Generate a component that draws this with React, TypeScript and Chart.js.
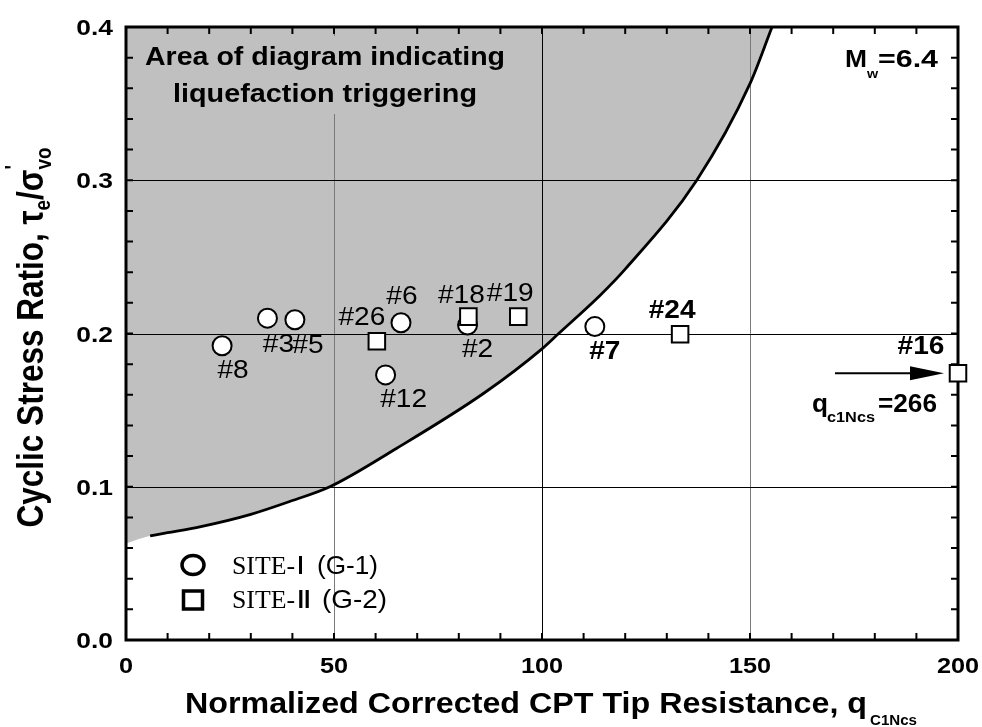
import React, { useEffect, useRef } from 'react';
import { Chart, registerables } from 'chart.js';

Chart.register(...registerables);

// ---------- data ----------
const X_TICK_LABELS = ['0', '50', '100', '150', '200'];
const Y_TICK_LABELS = ['0.0', '0.1', '0.2', '0.3', '0.4'];

const SITE1_NAMES = ['#8', '#3', '#5', '#6', '#12', '#2', '#7'];
const SITE1_QC1NCS = [23.1, 34.0, 40.6, 66.1, 62.4, 82.1, 112.7];
const SITE1_CSR = [0.192, 0.21, 0.209, 0.207, 0.173, 0.2055, 0.2045];

const SITE2_NAMES = ['#26', '#18', '#19', '#24', '#16'];
const SITE2_QC1NCS = [60.3, 82.3, 94.3, 133.2, 200];
const SITE2_CSR = [0.195, 0.211, 0.211, 0.1995, 0.174];

const CRR_QC1NCS = [5.8, 10, 18, 30, 40, 49, 65, 86, 100, 104, 114, 120, 137.2, 150, 155.3];
const CRR_CSR = [0.068, 0.07, 0.074, 0.082, 0.091, 0.1, 0.125, 0.161, 0.19, 0.2, 0.225, 0.242, 0.3, 0.363, 0.4];
const FILL_EDGE_Q = 0;
const FILL_EDGE_CSR = 0.063;

const BOLD_LABELS = ['#7', '#24', '#16'];

// label offsets (pixels, relative to the marker)
const LABEL_OFFSET: Record<string, [number, number]> = {
  '#8': [11, 25], '#3': [11, 27], '#5': [13, 26], '#6': [1, -26], '#12': [18, 25], '#2': [10, 25], '#7': [10, 25],
  '#26': [-15, -23], '#18': [-7, -21], '#19': [-8, -23], '#24': [-8, -23], '#16': [-37, -27],
};

const SANS = '"Liberation Sans", Arial, sans-serif';
const SERIF = '"Liberation Serif", "Times New Roman", serif';
const ROMAN = '"DejaVu Sans", sans-serif';
const GRAY_FILL = '#c0c0c0';

type TxtOpts = { bold?: boolean; sx?: number; width?: number; align?: 'left' | 'center' | 'right'; baseline?: CanvasTextBaseline; family?: string };

function txt(ctx: CanvasRenderingContext2D, s: string, x: number, y: number, size: number, o: TxtOpts = {}) {
  ctx.save();
  ctx.font = `${o.bold ? 'bold ' : ''}${size}px ${o.family || SANS}`;
  ctx.textAlign = 'left';
  ctx.textBaseline = o.baseline || 'alphabetic';
  const nat = ctx.measureText(s).width;
  const w = o.width ?? nat * (o.sx ?? 1);
  const k = w / nat;
  const a = o.align || 'left';
  const x0 = a === 'center' ? x - w / 2 : a === 'right' ? x - w : x;
  ctx.translate(x0, y);
  ctx.scale(k, 1);
  ctx.fillStyle = '#000';
  ctx.fillText(s, 0, 0);
  ctx.restore();
  return w;
}

const decorPlugin = {
  id: 'decor',
  afterDatasetDraw(chart: any, args: any) {
    if (args.index !== 0) return;
    const ctx: CanvasRenderingContext2D = chart.ctx;
    const ca = chart.chartArea;
    const xs = chart.scales.x;
    const ys = chart.scales.y;
    ctx.save();
    // grid lines
    ctx.lineWidth = 1;
    X_TICK_LABELS.forEach((l) => {
      const v = parseFloat(l);
      if (v <= xs.min || v >= xs.max) return;
      const px = Math.round(xs.getPixelForValue(v)) + 0.5;
      ctx.strokeStyle = v % 100 === 0 ? '#000' : '#7a7a7a';
      ctx.beginPath();
      ctx.moveTo(px, ca.top);
      ctx.lineTo(px, ca.bottom);
      ctx.stroke();
    });
    Y_TICK_LABELS.forEach((l) => {
      const v = parseFloat(l);
      if (v <= ys.min || v >= ys.max) return;
      const py = Math.round(ys.getPixelForValue(v)) + 0.5;
      ctx.strokeStyle = '#000';
      ctx.beginPath();
      ctx.moveTo(ca.left, py);
      ctx.lineTo(ca.right, py);
      ctx.stroke();
    });
    // minor ticks, inward on all sides
    ctx.strokeStyle = '#000';
    ctx.lineWidth = 2;
    const tl = 7;
    for (let i = 0; i <= 20; i++) {
      const px = xs.getPixelForValue(xs.min + i * 10);
      ctx.beginPath();
      ctx.moveTo(px, ca.bottom);
      ctx.lineTo(px, ca.bottom - tl);
      ctx.moveTo(px, ca.top);
      ctx.lineTo(px, ca.top + tl);
      ctx.stroke();
    }
    for (let i = 0; i <= 20; i++) {
      const py = ys.getPixelForValue(ys.min + i * 0.02);
      ctx.beginPath();
      ctx.moveTo(ca.left, py);
      ctx.lineTo(ca.left + tl, py);
      ctx.moveTo(ca.right, py);
      ctx.lineTo(ca.right - tl, py);
      ctx.stroke();
    }
    // frame
    ctx.lineWidth = 3;
    ctx.strokeRect(ca.left, ca.top, ca.right - ca.left, ca.bottom - ca.top);
    ctx.restore();
  },
  afterDatasetsDraw(chart: any) {
    const ctx: CanvasRenderingContext2D = chart.ctx;
    const ca = chart.chartArea;
    const xs = chart.scales.x;
    const ys = chart.scales.y;

    // annotation box in the shaded area
    ctx.save();
    ctx.fillStyle = GRAY_FILL;
    ctx.fillRect(ca.left + 9, ca.top + 9, 380, 78);
    ctx.restore();
    txt(ctx, 'Area of diagram indicating', ca.left + 199, ca.top + 38, 25, { bold: true, width: 360, align: 'center' });
    txt(ctx, 'liquefaction triggering', ca.left + 199, ca.top + 75, 25, { bold: true, width: 304, align: 'center' });

    // Mw label
    const mx = ca.right - 113;
    const mw = txt(ctx, 'M', mx, ca.top + 40, 24, { bold: true, sx: 1.1 });
    txt(ctx, 'w', mx + mw, ca.top + 51, 13, { bold: true, sx: 1.1 });
    txt(ctx, '=6.4', mx + 33, ca.top + 40, 24, { bold: true, width: 60 });

    // point labels
    const drawLabels = (names: string[], qs: number[], cs: number[]) => {
      names.forEach((n, i) => {
        const px = xs.getPixelForValue(qs[i]);
        const py = ys.getPixelForValue(cs[i]);
        const off = LABEL_OFFSET[n] || [0, 0];
        txt(ctx, n, px + off[0], py + off[1], 26, { bold: BOLD_LABELS.includes(n), sx: 1.08, align: 'center', baseline: 'middle' });
      });
    };
    drawLabels(SITE1_NAMES, SITE1_QC1NCS, SITE1_CSR);
    drawLabels(SITE2_NAMES, SITE2_QC1NCS, SITE2_CSR);

    // arrow + qc1Ncs note at #16
    const i16 = SITE2_NAMES.indexOf('#16');
    const ax = xs.getPixelForValue(SITE2_QC1NCS[i16]);
    const ay = ys.getPixelForValue(SITE2_CSR[i16]);
    ctx.save();
    ctx.strokeStyle = '#000';
    ctx.fillStyle = '#000';
    ctx.lineWidth = 2;
    ctx.beginPath();
    ctx.moveTo(ax - 123, ay);
    ctx.lineTo(ax - 46, ay);
    ctx.stroke();
    ctx.beginPath();
    ctx.moveTo(ax - 14, ay);
    ctx.lineTo(ax - 48, ay - 7);
    ctx.lineTo(ax - 48, ay + 7);
    ctx.closePath();
    ctx.fill();
    ctx.restore();
    txt(ctx, 'q', ax - 146, ay + 39, 25, { bold: true, width: 16 });
    txt(ctx, 'c1Ncs', ax - 131, ay + 49, 14, { bold: true, width: 48 });
    txt(ctx, '=266', ax - 80, ay + 39, 25, { bold: true, width: 59 });

    // legend
    const lx = ca.left + 67;
    const ly1 = ca.bottom - 75;
    const ly2 = ca.bottom - 40;
    ctx.save();
    ctx.strokeStyle = '#000';
    ctx.fillStyle = '#fff';
    ctx.lineWidth = 3.5;
    ctx.beginPath();
    ctx.ellipse(lx, ly1, 11, 9.5, 0, 0, Math.PI * 2);
    ctx.fill();
    ctx.stroke();
    ctx.fillRect(lx - 9.5, ly2 - 9, 19, 18);
    ctx.strokeRect(lx - 9.5, ly2 - 9, 19, 18);
    ctx.restore();
    const tx = ca.left + 106;
    const w1 = txt(ctx, 'SITE-', tx, ly1 + 9, 26, { family: SERIF, width: 63 });
    txt(ctx, 'Ⅰ', tx + w1 + 1, ly1 + 9, 24, { family: ROMAN, width: 9 });
    txt(ctx, '(G-1)', tx + 85, ly1 + 9, 26, { width: 61 });
    const w2 = txt(ctx, 'SITE-', tx, ly2 + 8, 26, { family: SERIF, width: 63 });
    txt(ctx, 'Ⅱ', tx + w2 + 1, ly2 + 8, 24, { family: ROMAN, width: 16 });
    txt(ctx, '(G-2)', tx + 90, ly2 + 8, 26, { width: 65 });
  },
  afterDraw(chart: any) {
    const ctx: CanvasRenderingContext2D = chart.ctx;
    const ca = chart.chartArea;
    const xs = chart.scales.x;
    const ys = chart.scales.y;
    // tick labels
    X_TICK_LABELS.forEach((l) => {
      const px = xs.getPixelForValue(parseFloat(l));
      txt(ctx, l, px, ca.bottom + 33, 22, { bold: true, sx: 1.15, align: 'center' });
    });
    Y_TICK_LABELS.forEach((l) => {
      const py = ys.getPixelForValue(parseFloat(l));
      txt(ctx, l, ca.left - 13, py + 8, 22, { bold: true, sx: 1.2, align: 'right' });
    });
    // x title
    txt(ctx, 'Normalized Corrected CPT Tip Resistance, q', 185, ca.bottom + 73, 29, { bold: true, width: 682 });
    txt(ctx, 'C1Ncs', 870, ca.bottom + 85, 14, { bold: true, width: 47 });

    // y title (rotated)
    const segs: { t: string; size: number; dy: number; adv: boolean }[] = [
      { t: 'Cyclic Stress Ratio, τ', size: 30, dy: 0, adv: true },
      { t: 'e', size: 18, dy: 6, adv: true },
      { t: '/σ', size: 30, dy: 0, adv: true },
      { t: "'", size: 18, dy: -19, adv: false },
      { t: 'vo', size: 18, dy: 7, adv: true },
    ];
    ctx.save();
    let total = 0;
    segs.forEach((s) => {
      ctx.font = `bold ${s.size}px ${SANS}`;
      if (s.adv) total += ctx.measureText(s.t).width;
    });
    const along = 380 / total;
    const centerY = (ca.top + ca.bottom) / 2 + 4;
    ctx.translate(43, centerY + 190);
    ctx.rotate(-Math.PI / 2);
    ctx.scale(along, 1.2);
    ctx.fillStyle = '#000';
    ctx.textBaseline = 'alphabetic';
    ctx.textAlign = 'left';
    let cx = 0;
    segs.forEach((s) => {
      ctx.font = `bold ${s.size}px ${SANS}`;
      ctx.fillText(s.t, cx, s.dy);
      if (s.adv) cx += ctx.measureText(s.t).width;
    });
    ctx.restore();
  },
};

export default function App() {
  const ref = useRef<HTMLCanvasElement | null>(null);
  useEffect(() => {
    if (!ref.current) return;
    const fillData = [{ x: FILL_EDGE_Q, y: FILL_EDGE_CSR }].concat(CRR_QC1NCS.map((q, i) => ({ x: q, y: CRR_CSR[i] })));
    const curveData = CRR_QC1NCS.map((q, i) => ({ x: q, y: CRR_CSR[i] }));
    const chart = new Chart(ref.current, {
      type: 'scatter',
      data: {
        datasets: [
          {
            type: 'line',
            label: 'liquefaction area',
            data: fillData,
            borderWidth: 0,
            borderColor: 'rgba(0,0,0,0)',
            backgroundColor: GRAY_FILL,
            pointRadius: 0,
            fill: 'end',
            cubicInterpolationMode: 'monotone',
            order: 10,
          } as any,
          {
            type: 'line',
            label: 'CRR curve',
            data: curveData,
            borderWidth: 2.8,
            borderColor: '#000',
            pointRadius: 0,
            fill: false,
            cubicInterpolationMode: 'monotone',
            order: 5,
          } as any,
          {
            label: 'SITE-Ⅰ (G-1)',
            data: SITE1_QC1NCS.map((q, i) => ({ x: q, y: SITE1_CSR[i] })),
            pointStyle: 'circle',
            pointRadius: 9.5,
            borderWidth: 2,
            borderColor: '#000',
            backgroundColor: '#fff',
            clip: false,
            order: 2,
          } as any,
          {
            label: 'SITE-Ⅱ (G-2)',
            data: SITE2_QC1NCS.map((q, i) => ({ x: q, y: SITE2_CSR[i] })),
            pointStyle: 'rect',
            pointRadius: 11.7,
            borderWidth: 2,
            borderColor: '#000',
            backgroundColor: '#fff',
            clip: false,
            order: 1,
          } as any,
        ],
      },
      options: {
        responsive: false,
        animation: false,
        layout: { padding: { left: 126, right: 24, top: 27, bottom: 87 } },
        scales: {
          x: { type: 'linear', min: 0, max: 200, display: false, ticks: { stepSize: 50 } },
          y: { type: 'linear', min: 0, max: 0.4, display: false, ticks: { stepSize: 0.1 } },
        },
        plugins: { legend: { display: false }, tooltip: { enabled: false } },
        events: [],
      },
      plugins: [decorPlugin],
    } as any);
    return () => chart.destroy();
  }, []);
  return (
    <div style={{ position: 'absolute', left: 0, top: 0, width: 982, height: 727, background: '#fff' }}>
      <canvas ref={ref} width={982} height={727} style={{ display: 'block' }} />
    </div>
  );
}
